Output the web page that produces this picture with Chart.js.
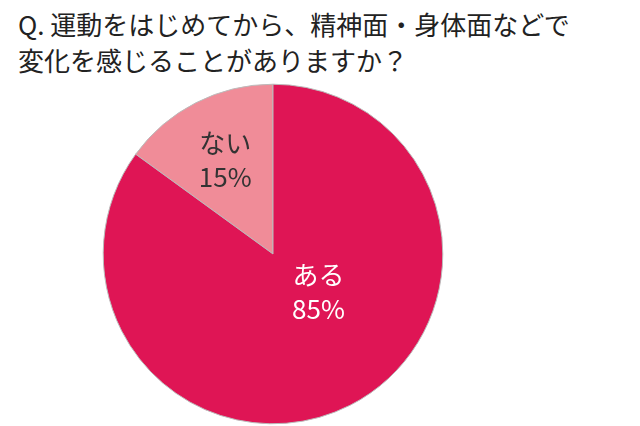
<!DOCTYPE html>
<html><head><meta charset="utf-8">
<script src="https://cdn.jsdelivr.net/npm/chart.js@4"></script>
<style>
body{margin:0;width:640px;height:426px;background:#fff;overflow:hidden;position:relative;font-family:"Noto Sans CJK JP",sans-serif}
#title{position:absolute;left:18px;top:6px;font-size:26px;line-height:36px;color:#222}
#wrap{position:absolute;left:0;top:82px;width:546px;height:344px}
</style></head><body>
<div id="title">Q. 運動をはじめてから、精神面・身体面などで<br>変化を感じることがありますか？</div>
<div id="wrap"><canvas id="pie"></canvas></div>
<script>
const labels = ['ない', 'ある'];
const values = [15, 85];
const colors = ['#F08C98', '#DF1555'];

// label placement as fraction of radius, with a slight angle shift
const labelPos = [{ r: 0.62, a: 0 }, { r: 0.35, a: -0.4 }];

const sliceLabels = {
  id: 'sliceLabels',
  afterDatasetsDraw(chart) {
    const ctx = chart.ctx;
    chart.getDatasetMeta(0).data.forEach((arc, i) => {
      const mid = (arc.startAngle + arc.endAngle) / 2 + labelPos[i].a;
      const r = arc.outerRadius * labelPos[i].r;
      const x = arc.x + Math.cos(mid) * r;
      const y = arc.y + Math.sin(mid) * r;
      ctx.save();
      ctx.fillStyle = i === 0 ? '#333' : '#fff';
      ctx.font = '26px "Noto Sans CJK JP"';
      ctx.textAlign = 'center';
      ctx.textBaseline = 'middle';
      ctx.fillText(labels[i], x, y - 17);
      ctx.fillText(values[i] + '%', x, y + 17);
      ctx.restore();
    });
  }
};

new Chart(document.getElementById('pie'), {
  type: 'pie',
  data: {
    labels: labels,
    datasets: [{
      data: values,
      backgroundColor: colors,
      borderColor: '#bbb',
      borderWidth: 1
    }]
  },
  options: {
    responsive: true,
    maintainAspectRatio: false,
    animation: false,
    radius: '99%',
    rotation: -54,
    plugins: { legend: { display: false }, tooltip: { enabled: false } }
  },
  plugins: [sliceLabels]
});
</script>
</body></html>
